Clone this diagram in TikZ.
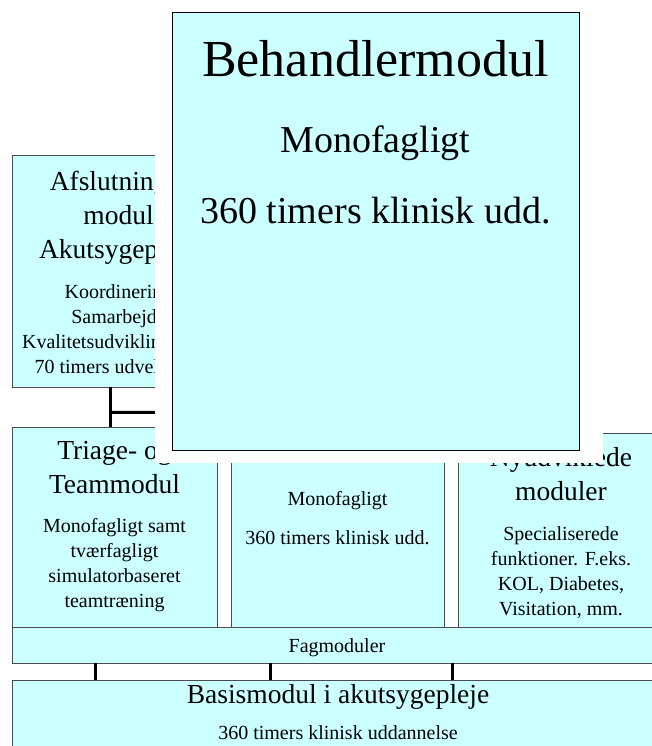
\documentclass[tikz,border=0pt]{standalone}
\usepackage{fontspec}
\setmainfont{Liberation Serif}
\usetikzlibrary{calc,positioning}
\definecolor{modcyan}{RGB}{204,255,255}
\tikzset{
        modul/.style = { draw=black!70, fill=modcyan, inner sep=0pt, anchor=north west },
       zoomed/.style = { modul, draw=black, line width=1.3pt },
       bigtxt/.style = { anchor=base, align=center, inner sep=0pt, font=\fontsize{27.5}{34}\selectfont },
     smalltxt/.style = { anchor=base, align=center, inner sep=0pt, font=\fontsize{20}{24.7}\selectfont },
      hugetxt/.style = { anchor=base, align=center, inner sep=0pt, font=\fontsize{52}{60}\selectfont },
      zoomtxt/.style = { anchor=base, align=center, inner sep=0pt, font=\fontsize{38}{71}\selectfont },
         link/.style = { line width=3pt }
}
\begin{document}
\begin{tikzpicture}[x=1pt, y=-1pt]
  \useasboundingbox (0,0) rectangle (652,746);
  \clip (0,0) rectangle (652,746);

  % afslutningsmodul (text anchored on last baseline)
  \node (afslut) at(12,155) [modul, minimum width=213pt, minimum height=232pt] {};
  \node (afslutHead) at(118.5,258) [bigtxt] {Afslutnings-\\modul\\Akutsygepleje};
  \node (afslutBody) at(118.5,373) [smalltxt] {Koordinering\\Samarbejde\\Kvalitetsudvikling\hbox to 2.2em{}\\70 timers udveksling};

  % fagmoduler
  \node (triage) at(12,427) [modul, minimum width=205pt, minimum height=200pt] {};
  \node (triageHead) at(114.5,493) [bigtxt] {Triage- og\\Teammodul};
  \node (triageBody) at(114.5,607) [smalltxt] {Monofagligt samt\\tværfagligt\\simulatorbaseret\\teamtræning};

  \node (behandl) at(231,427) [modul, minimum width=213pt, minimum height=200pt] {};
  \node (behandlHead) at(337.5,459) [bigtxt] {Behandlermodul};
  \node (behandlBody) at(337.5,544) [smalltxt, font=\fontsize{20}{39}\selectfont] {Monofagligt\\360 timers klinisk udd.};

  \node (nyudv) at(458,433) [modul, minimum width=206pt, minimum height=194pt] {};
  \node (nyudvHead) at(561,500) [bigtxt] {Nyudviklede\\moduler};
  \node (nyudvBody) at(561,615) [smalltxt] {Specialiserede\\funktioner. F.eks.\\KOL, Diabetes,\\Visitation, mm.};

  \node (fag) at(12,627) [modul, minimum width=650pt, minimum height=36pt] {};
  \node (fagTxt) at(337,652) [smalltxt] {Fagmoduler};

  % basismodul
  \node (basis) at(12,680) [modul, minimum width=650pt, minimum height=90pt] {};
  \node (basisHead) at(338,703) [bigtxt] {Basismodul i akutsygepleje};
  \node (basisBody) at(338,739) [smalltxt] {360 timers klinisk uddannelse};

  % forbindelser
  \foreach \dx in {83,258,440}
    \draw[link] ($(fag.south west)+(\dx,0)$) -- ($(basis.north west)+(\dx,0)$);
  \draw[link] ($(afslut.south west)+(98,0)$) -- ($(triage.north west)+(98,0)$);
  \coordinate (branch) at ($(behandl.north)+(0,-15)$);
  \draw[link] ($(afslut.south west)+(98,25)$) -- (branch) -- (behandl.north);

  % forstoerret behandlermodul
  \node (zoomPad) at(155,0) [modul, draw=none, fill=white, minimum width=448pt, minimum height=463pt] {};
  \node (zoomBox) at(172,12) [zoomed, minimum width=407pt, minimum height=438pt] {};
  \node (zoomHead) at(375.5,77) [hugetxt] {Behandlermodul};
  \node (zoomBody) at(375.5,223) [zoomtxt] {Monofagligt\\360 timers klinisk udd.};
\end{tikzpicture}
\end{document}
